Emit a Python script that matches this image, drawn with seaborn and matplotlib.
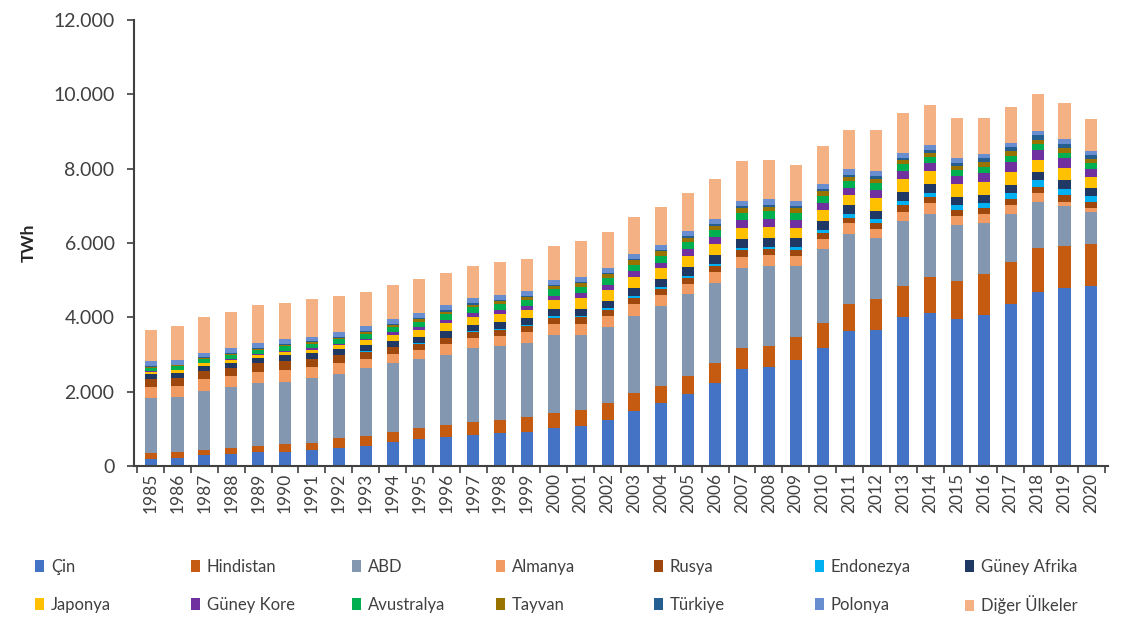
import matplotlib
matplotlib.use("Agg")
import matplotlib.pyplot as plt
from matplotlib.patches import Patch
from matplotlib.ticker import FuncFormatter
import numpy as np
import seaborn as sns

# veriler (TWh), 1985-2020
years = [str(y) for y in range(1985, 2021)]

cin = [200, 225, 290, 330, 370, 390, 430, 490, 540, 650, 720, 770, 825, 880, 920, 1020, 1080, 1240,
       1490, 1690, 1940, 2240, 2600, 2660, 2850, 3170, 3620, 3650, 4010, 4110, 3960, 4060, 4370, 4680, 4780, 4830]
hindistan = [140, 155, 150, 155, 165, 190, 200, 250, 265, 275, 300, 340, 360, 370, 390, 410, 420, 445,
             465, 470, 490, 520, 575, 580, 630, 670, 740, 830, 830, 980, 1030, 1100, 1130, 1190, 1140, 1150]
abd = [1480, 1480, 1580, 1640, 1690, 1690, 1750, 1740, 1820, 1840, 1850, 1880, 1980, 1980, 2010, 2090, 2030, 2050,
       2090, 2150, 2200, 2155, 2160, 2140, 1900, 2005, 1890, 1645, 1750, 1700, 1495, 1385, 1290, 1230, 1075, 860]
almanya = [310, 290, 310, 290, 300, 300, 290, 290, 265, 255, 255, 280, 270, 270, 290, 300, 300, 290,
           305, 290, 265, 300, 295, 285, 270, 270, 275, 250, 255, 290, 245, 230, 235, 245, 120, 105]
rusya = [220, 225, 225, 230, 235, 250, 205, 205, 190, 175, 165, 165, 160, 155, 160, 170, 170, 170,
         175, 160, 170, 165, 170, 163, 165, 160, 160, 160, 170, 152, 155, 160, 165, 175, 170, 151]
endonezya = [2, 3, 4, 5, 6, 8, 9, 11, 13, 15, 18, 22, 26, 30, 32, 35, 40, 45,
             50, 55, 60, 65, 68, 70, 72, 75, 85, 100, 110, 120, 130, 135, 150, 165, 175, 180]
guney_afrika = [110, 115, 120, 125, 135, 150, 150, 150, 160, 165, 170, 175, 180, 185, 180, 190, 195, 200,
                210, 215, 220, 225, 235, 240, 235, 240, 240, 235, 235, 235, 230, 230, 230, 225, 225, 200]
japonya = [80, 80, 82, 85, 88, 95, 100, 110, 135, 160, 190, 213, 215, 220, 225, 250, 275, 285,
           290, 285, 310, 300, 313, 300, 282, 285, 270, 330, 350, 340, 335, 340, 353, 335, 345, 310]
guney_kore = [15, 18, 20, 22, 25, 28, 30, 35, 40, 60, 73, 95, 95, 105, 100, 115, 140, 155,
              160, 160, 175, 180, 200, 210, 215, 205, 210, 235, 240, 220, 215, 245, 265, 255, 250, 215]
avustralya = [90, 95, 100, 105, 110, 120, 125, 130, 135, 140, 145, 150, 155, 160, 165, 170, 175, 180,
              180, 185, 190, 190, 195, 200, 200, 190, 170, 175, 165, 160, 160, 165, 160, 155, 150, 140]
tayvan = [20, 22, 25, 28, 32, 36, 40, 45, 50, 56, 60, 65, 70, 75, 78, 85, 95, 112,
          116, 118, 120, 122, 125, 125, 120, 120, 120, 120, 120, 120, 125, 133, 130, 125, 133, 125]
turkiye = [15, 17, 20, 22, 25, 28, 28, 28, 30, 32, 35, 38, 40, 38, 36, 38, 35, 32,
           30, 30, 40, 45, 53, 58, 56, 55, 60, 65, 60, 75, 76, 92, 98, 113, 112, 105]
polonya = [130, 125, 125, 125, 132, 135, 120, 120, 125, 130, 130, 135, 135, 135, 127, 130, 130, 130,
           135, 130, 130, 135, 140, 140, 135, 140, 140, 130, 135, 130, 130, 130, 125, 130, 115, 100]
diger = [855, 915, 970, 985, 1015, 970, 1015, 980, 925, 925, 915, 870, 870, 880, 860, 925, 975, 975,
         1010, 1040, 1035, 1085, 1075, 1075, 970, 1020, 1055, 1115, 1075, 1075, 1075, 950, 960, 985, 970, 870]

ulkeler = ['Çin', 'Hindistan', 'ABD', 'Almanya', 'Rusya', 'Endonezya', 'Güney Afrika',
           'Japonya', 'Güney Kore', 'Avustralya', 'Tayvan', 'Türkiye', 'Polonya', 'Diğer Ülkeler']
seriler = [cin, hindistan, abd, almanya, rusya, endonezya, guney_afrika,
           japonya, guney_kore, avustralya, tayvan, turkiye, polonya, diger]
renkler = ['#4472C4', '#C55A11', '#8497B0', '#F19A62', '#9E480E', '#00B0F0', '#1F3864',
           '#FFC000', '#7030A0', '#00B050', '#997300', '#255E91', '#698ED0', '#F4B183']

sns.set_style("white")
plt.rcParams['font.family'] = ['Lato', 'DejaVu Sans']
yazi_rengi = '#404040'

W, H = 1131, 623
fig = plt.figure(figsize=(W / 100, H / 100), dpi=100)
ax = fig.add_axes([134 / W, 1 - 466 / H, (1108 - 134) / W, (466 - 20) / H])

# yığılmış çubuklar: kümülatif toplamlar üstten alta doğru çiziliyor
toplam = np.cumsum(np.array(seriler), axis=0)
for i in range(len(seriler) - 1, -1, -1):
    sns.barplot(x=years, y=toplam[i], color=renkler[i], width=0.45, saturation=1,
                linewidth=0, ax=ax)

ax.set_ylim(0, 12000)
ax.set_yticks(range(0, 12001, 2000))
ax.yaxis.set_major_formatter(FuncFormatter(lambda v, p: f'{int(v):,}'.replace(',', '.')))
ax.set_xlim(-0.62, 35.62)
ax.set_xticks(range(len(years)))
ax.set_xticklabels(years, rotation=90)
ax.set_xticks(np.arange(-0.5, len(years), 1), minor=True)
ax.tick_params(axis='x', which='major', length=0, pad=5, labelsize=12.5, labelcolor=yazi_rengi)
ax.tick_params(axis='x', which='minor', length=5, width=1.2, color='#404040', direction='out', bottom=True)
ax.tick_params(axis='y', length=5, width=1.2, color='#404040', direction='out', left=True,
               labelsize=14, labelcolor=yazi_rengi, pad=9)

for s in ['top', 'right']:
    ax.spines[s].set_visible(False)
for s in ['left', 'bottom']:
    ax.spines[s].set_color('#404040')
    ax.spines[s].set_linewidth(1.5)

ax.set_xlabel('')
ax.set_ylabel('TWh', fontweight='bold', fontsize=12.5, color='#262626', labelpad=12)

# lejant: her öğe ayrı konumda (Excel düzeni gibi)
sutun_x = [35, 191, 352, 496, 654, 815, 965]
satir_y = [567, 605]
for k, (ad, renk) in enumerate(zip(ulkeler, renkler)):
    x = sutun_x[k % 7]
    y = satir_y[k // 7]
    fig.legend([Patch(facecolor=renk, edgecolor='none')], [ad], loc='center left',
               bbox_to_anchor=(x / W, 1 - y / H), frameon=False, fontsize=12,
               handlelength=0.55, handleheight=0.7, handletextpad=0.4, borderpad=0,
               borderaxespad=0, labelcolor=yazi_rengi)

fig.savefig('out.png', dpi=100)
